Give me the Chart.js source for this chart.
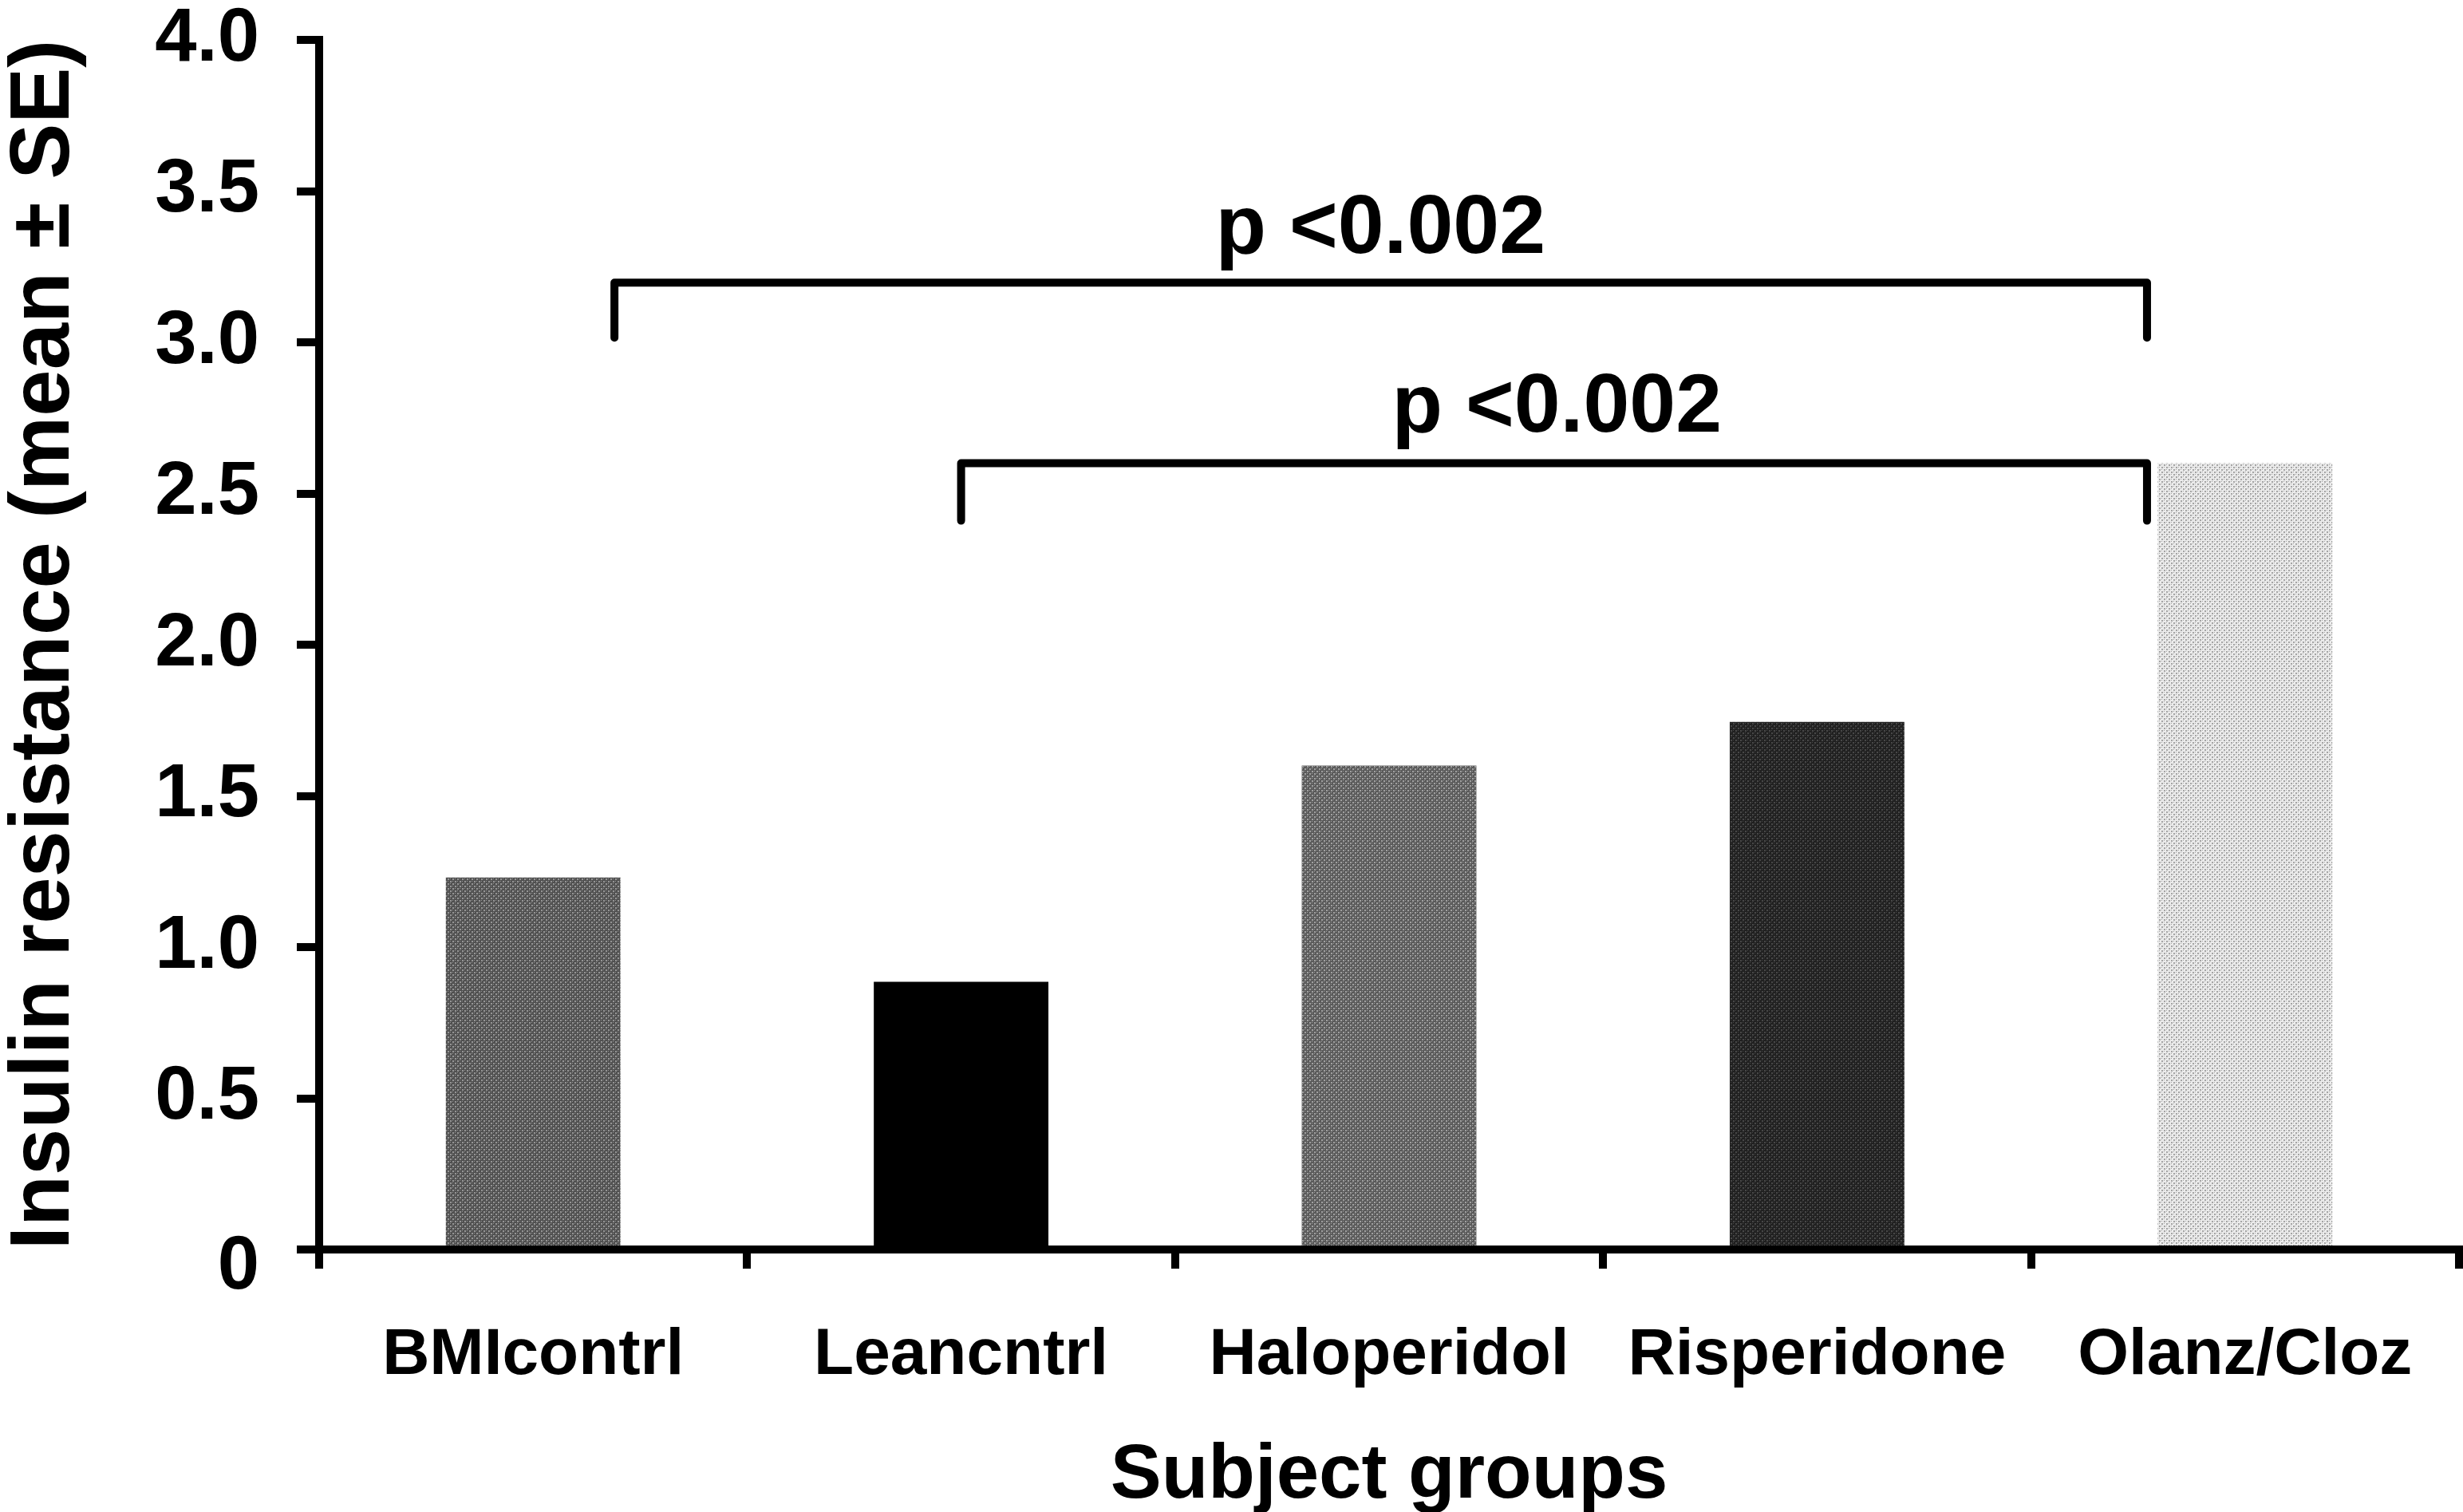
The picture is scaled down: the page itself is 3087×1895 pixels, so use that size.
<!DOCTYPE html>
<html>
<head>
<meta charset="utf-8">
<script src="https://cdn.jsdelivr.net/npm/chart.js@4.4.1/dist/chart.umd.min.js"></script>
<style>
  html, body { margin: 0; padding: 0; background: #fff; }
  canvas { display: block; }
</style>
</head>
<body>
<canvas id="chart" width="3087" height="1895"></canvas>
<script>
const groups = ["BMIcontrl", "Leancntrl", "Haloperidol", "Risperidone", "Olanz/Cloz"];
const insulin = [1.23, 0.885, 1.60, 1.745, 2.60];
const yTickLabels = ["0", "0.5", "1.0", "1.5", "2.0", "2.5", "3.0", "3.5", "4.0"];

// significance brackets, in category index / value units
const bracketLeft = [0.19, 1.0];
const bracketRight = [3.771, 3.771];
const bracketTop = [3.197, 2.60];
const bracketFoot = [3.015, 2.41];
const pText = ["p <0.002", "p <0.002"];
const pTextX = [1.98, 2.392];
const pTextY = [3.296, 2.704];

const FONT = "'Liberation Sans', Arial, Helvetica, sans-serif";

function makePattern(base, dot) {
  const c = document.createElement("canvas");
  c.width = 6; c.height = 6;
  const g = c.getContext("2d");
  g.fillStyle = base;
  g.fillRect(0, 0, 6, 6);
  g.fillStyle = dot;
  g.fillRect(0, 0, 2, 2);
  g.fillRect(3, 3, 2, 2);
  g.fillRect(3, 0, 1, 1);
  g.fillRect(0, 3, 1, 1);
  return g.createPattern(c, "repeat");
}

const barFills = [
  makePattern("#505050", "#959595"),
  "#000000",
  makePattern("#5a5a5a", "#a0a0a0"),
  makePattern("#202020", "#484848"),
  makePattern("#ececec", "#a4a4a4")
];

const bracketPlugin = {
  id: "brackets",
  afterDatasetsDraw(chart) {
    const ctx = chart.ctx;
    const xs = chart.scales.x;
    const ys = chart.scales.y;
    ctx.save();
    ctx.strokeStyle = "#000";
    ctx.lineWidth = 10;
    ctx.lineCap = "round";
    ctx.lineJoin = "round";
    for (let i = 0; i < bracketLeft.length; i++) {
      const x1 = xs.getPixelForValue(bracketLeft[i]);
      const x2 = xs.getPixelForValue(bracketRight[i]);
      const yt = ys.getPixelForValue(bracketTop[i]);
      const yb = ys.getPixelForValue(bracketFoot[i]);
      ctx.beginPath();
      ctx.moveTo(x1, yb);
      ctx.lineTo(x1, yt);
      ctx.lineTo(x2, yt);
      ctx.lineTo(x2, yb);
      ctx.stroke();
    }
    ctx.fillStyle = "#000";
    ctx.font = "bold 104px " + FONT;
    ctx.textAlign = "center";
    ctx.textBaseline = "alphabetic";
    for (let i = 0; i < pText.length; i++) {
      ctx.fillText(pText[i], xs.getPixelForValue(pTextX[i]), ys.getPixelForValue(pTextY[i]));
    }
    ctx.restore();
  }
};

new Chart(document.getElementById("chart"), {
  type: "bar",
  data: {
    labels: groups,
    datasets: [{
      data: insulin,
      backgroundColor: barFills,
      borderWidth: 0,
      categoryPercentage: 1.0,
      barPercentage: 0.408
    }]
  },
  options: {
    responsive: false,
    animation: false,
    layout: { padding: { left: 0, top: 50, right: 5, bottom: 0 } },
    plugins: {
      legend: { display: false },
      tooltip: { enabled: false }
    },
    scales: {
      x: {
        afterFit(scale) { scale.height = 329; },
        grid: {
          offset: true,
          drawOnChartArea: false,
          drawTicks: true,
          tickLength: 24,
          tickWidth: 10,
          lineWidth: 10,
          color: "#000"
        },
        border: { display: true, width: 10, color: "#000" },
        ticks: {
          color: "#000",
          padding: 60,
          maxRotation: 0,
          font: { family: FONT, size: 82, weight: "bold", lineHeight: 1.2 }
        },
        title: {
          display: true,
          text: "Subject groups",
          color: "#000",
          padding: { top: 0, bottom: 0 },
          font: { family: FONT, size: 96, weight: "bold", lineHeight: 0.92 }
        }
      },
      y: {
        min: 0,
        max: 4,
        afterFit(scale) {
          scale.width = 400;
          scale.paddingTop = 0;
          scale.paddingBottom = 0;
        },
        grid: {
          drawOnChartArea: false,
          drawTicks: true,
          tickLength: 28,
          tickWidth: 10,
          lineWidth: 10,
          color: "#000"
        },
        border: { display: true, width: 10, color: "#000" },
        ticks: {
          stepSize: 0.5,
          color: "#000",
          padding: 47,
          font: { family: FONT, size: 94, weight: "bold", lineHeight: 0.5 },
          callback: (v, i) => (i === 0 ? ["", yTickLabels[0]] : yTickLabels[i])
        },
        title: {
          display: true,
          text: "Insulin resistance (mean ± SE)",
          color: "#000",
          padding: { top: 5, bottom: 0 },
          font: { family: FONT, size: 105, weight: "bold", lineHeight: 1.0 }
        }
      }
    }
  },
  plugins: [bracketPlugin]
});
</script>
</body>
</html>
